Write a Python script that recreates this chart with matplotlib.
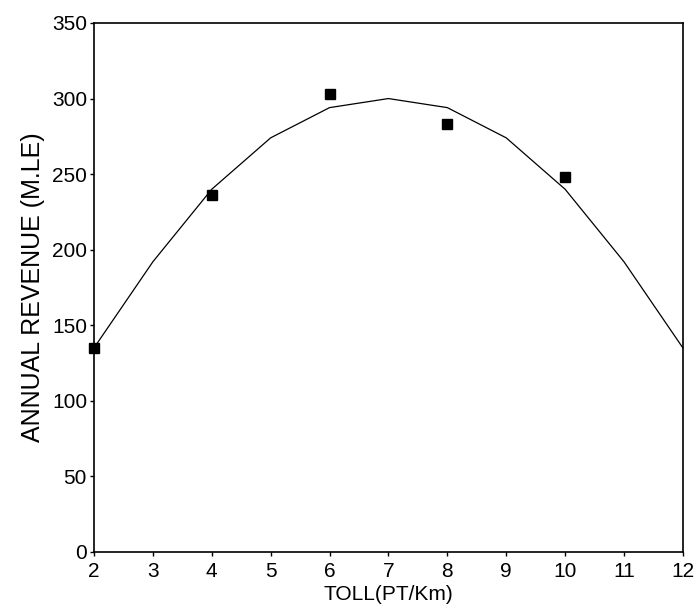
import matplotlib.pyplot as plt

# observed points (square markers)
toll_obs = [2, 4, 6, 8, 10]
revenue_obs = [135, 236, 303, 283, 248]

# fitted curve
toll_fit = [2, 3, 4, 5, 6, 7, 8, 9, 10, 11, 12]
revenue_fit = [135, 192, 240, 274, 294, 300, 294, 274, 240, 192, 135]

x_ticks = list(range(2, 13))
y_ticks = [0, 50, 100, 150, 200, 250, 300, 350]

plt.rcParams["font.family"] = ["Liberation Sans", "DejaVu Sans"]

fig = plt.figure(figsize=(6.94, 6.16), dpi=100)
ax = fig.add_axes([0.1354, 0.1039, 0.8486, 0.8588])

ax.plot(toll_fit, revenue_fit, color="black", linewidth=0.9, clip_on=False)
ax.plot(toll_obs, revenue_obs, linestyle="none", marker="s", markersize=7.5,
        color="black", clip_on=False, zorder=3)

ax.set_xlim(2, 12)
ax.set_ylim(0, 350)
ax.set_xticks(x_ticks)
ax.set_yticks(y_ticks)
ax.tick_params(labelsize=15, length=3, width=1)
ax.tick_params(axis="x", pad=4)
ax.tick_params(axis="y", pad=2)

for s in ax.spines.values():
    s.set_linewidth(1.2)

ax.set_xlabel("TOLL(PT/Km)", fontsize=15, labelpad=3)
ax.set_ylabel("ANNUAL REVENUE (M.LE)", fontsize=18, labelpad=5)

fig.savefig("out.png", dpi=100)
